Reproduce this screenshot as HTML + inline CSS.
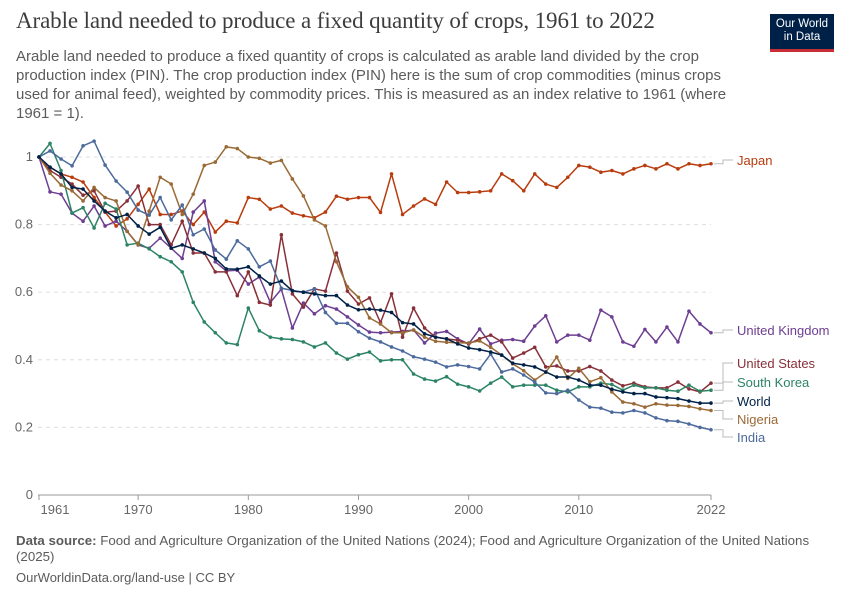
<!DOCTYPE html>
<html><head><meta charset="utf-8"><style>
body{margin:0;background:#fff;font-family:"Liberation Sans",sans-serif;}
#wrap{position:relative;width:850px;height:600px;overflow:hidden}
h1{position:absolute;left:16px;top:8px;margin:0;font-family:"Liberation Serif",serif;font-size:23px;font-weight:normal;color:#3d3d3d;letter-spacing:-0.1px}
#sub{position:absolute;left:16px;top:47px;width:715px;font-size:15px;line-height:19px;color:#5b5b5b}
#logo{position:absolute;left:770px;top:14px;width:64px;height:38px;background:#002147;color:#fff;font-size:11.5px;line-height:13px;text-align:center;padding-top:4px;box-sizing:border-box}
#logo:after{content:"";position:absolute;left:0;right:0;bottom:0;height:3px;background:#c82d36}
#foot{position:absolute;left:16px;top:533px;width:795px;font-size:13.3px;line-height:16px;color:#5b5b5b}
#foot2{position:absolute;left:16px;top:570px;font-size:13px;color:#5b5b5b}
</style></head><body><div id="wrap">
<h1>Arable land needed to produce a fixed quantity of crops, 1961 to 2022</h1>
<div id="sub">Arable land needed to produce a fixed quantity of crops is calculated as arable land divided by the crop production index (PIN). The crop production index (PIN) here is the sum of crop commodities (minus crops used for animal feed), weighted by commodity prices. This is measured as an index relative to 1961 (where 1961 = 1).</div>
<div id="logo">Our World<br>in Data</div>
<svg id="chart" width="850" height="600" style="position:absolute;left:0;top:0"></svg>
<div id="foot"><b>Data source:</b> Food and Agriculture Organization of the United Nations (2024); Food and Agriculture Organization of the United Nations (2025)</div>
<div id="foot2">OurWorldinData.org/land-use | CC BY</div>
</div>
<script>
const years=[];for(let y=1961;y<=2022;y++)years.push(y);
const yTicks=[0,0.2,0.4,0.6,0.8,1];
const yTickLabels=["0","0.2","0.4","0.6","0.8","1"];
const xTicks=[1961,1970,1980,1990,2000,2010,2022];
const japan=[1,0.97,0.95,0.94,0.926,0.88,0.837,0.796,0.817,0.86,0.905,0.83,0.83,0.84,0.8,0.837,0.778,0.81,0.805,0.88,0.875,0.846,0.855,0.834,0.826,0.82,0.837,0.884,0.875,0.88,0.88,0.836,0.95,0.83,0.855,0.876,0.86,0.926,0.895,0.895,0.897,0.9,0.95,0.93,0.9,0.95,0.92,0.91,0.94,0.975,0.97,0.955,0.96,0.95,0.965,0.975,0.965,0.98,0.965,0.98,0.975,0.98];
const uk=[1,0.897,0.89,0.834,0.81,0.855,0.796,0.81,0.78,0.74,0.73,0.76,0.73,0.7,0.837,0.87,0.69,0.663,0.665,0.624,0.645,0.57,0.609,0.494,0.568,0.536,0.56,0.55,0.527,0.503,0.482,0.48,0.482,0.484,0.488,0.45,0.479,0.484,0.462,0.447,0.491,0.447,0.458,0.46,0.455,0.5,0.53,0.453,0.473,0.473,0.458,0.547,0.527,0.453,0.44,0.49,0.453,0.497,0.453,0.544,0.506,0.48];
const us=[1,0.96,0.94,0.92,0.887,0.9,0.837,0.84,0.87,0.914,0.8,0.8,0.74,0.81,0.716,0.716,0.66,0.66,0.59,0.66,0.57,0.562,0.77,0.595,0.556,0.61,0.603,0.716,0.603,0.565,0.583,0.51,0.595,0.467,0.553,0.494,0.467,0.462,0.458,0.447,0.462,0.473,0.453,0.405,0.42,0.437,0.379,0.382,0.367,0.367,0.38,0.367,0.34,0.323,0.331,0.32,0.317,0.317,0.334,0.314,0.305,0.331];
const korea=[1,1.04,0.96,0.834,0.85,0.79,0.863,0.846,0.74,0.745,0.728,0.705,0.69,0.66,0.57,0.512,0.48,0.45,0.445,0.553,0.486,0.467,0.462,0.46,0.453,0.438,0.45,0.42,0.402,0.415,0.423,0.397,0.4,0.4,0.358,0.343,0.337,0.35,0.328,0.32,0.308,0.331,0.349,0.32,0.325,0.325,0.325,0.31,0.305,0.32,0.32,0.331,0.327,0.31,0.325,0.317,0.317,0.31,0.307,0.325,0.307,0.31];
const world=[1,0.97,0.95,0.91,0.905,0.87,0.84,0.82,0.83,0.796,0.772,0.792,0.73,0.74,0.728,0.716,0.7,0.669,0.668,0.675,0.648,0.624,0.633,0.604,0.6,0.595,0.59,0.59,0.562,0.548,0.55,0.547,0.54,0.51,0.506,0.477,0.467,0.462,0.447,0.435,0.43,0.423,0.414,0.39,0.385,0.379,0.364,0.349,0.349,0.34,0.325,0.325,0.313,0.305,0.3,0.3,0.29,0.288,0.285,0.278,0.272,0.272];
const nigeria=[1,0.952,0.917,0.9,0.87,0.91,0.88,0.87,0.78,0.74,0.84,0.94,0.92,0.83,0.89,0.975,0.985,1.03,1.025,1.0,0.996,0.982,0.99,0.935,0.885,0.814,0.796,0.69,0.616,0.585,0.524,0.506,0.48,0.48,0.488,0.467,0.455,0.452,0.45,0.45,0.456,0.437,0.414,0.388,0.368,0.34,0.363,0.408,0.345,0.375,0.335,0.347,0.305,0.275,0.27,0.26,0.27,0.266,0.265,0.262,0.255,0.25];
const india=[1,1.018,0.994,0.974,1.033,1.047,0.976,0.929,0.896,0.843,0.828,0.88,0.814,0.858,0.77,0.787,0.725,0.698,0.752,0.728,0.675,0.692,0.612,0.605,0.6,0.61,0.54,0.508,0.508,0.483,0.464,0.453,0.438,0.426,0.409,0.402,0.393,0.379,0.385,0.38,0.373,0.417,0.364,0.373,0.355,0.334,0.302,0.3,0.31,0.281,0.26,0.257,0.245,0.243,0.25,0.243,0.228,0.22,0.218,0.21,0.2,0.193];
const series=[
 {name:"Japan",data:japan,color:"#b83c0e",ly:164},
 {name:"United Kingdom",data:uk,color:"#6d3e91",ly:334},
 {name:"United States",data:us,color:"#883039",ly:367},
 {name:"South Korea",data:korea,color:"#2c8465",ly:386},
 {name:"Nigeria",data:nigeria,color:"#9a6a36",ly:423},
 {name:"India",data:india,color:"#4c6a9c",ly:441},
 {name:"World",data:world,color:"#002147",ly:405}
];
const svg=document.getElementById('chart');const NS="http://www.w3.org/2000/svg";
const X0=39,X1=711,Y0=495,Y1=157;
const xs=y=>X0+(y-1961)*(X1-X0)/(2022-1961);
const ys=v=>Y0-v*(Y0-Y1);
function mk(t,a,txt){const e=document.createElementNS(NS,t);for(const k in a)e.setAttribute(k,a[k]);if(txt!==undefined)e.textContent=txt;svg.appendChild(e);return e;}
yTicks.forEach((v,i)=>{
 const g=mk('line',{x1:38,x2:711,y1:ys(v),y2:ys(v),stroke:'#ddd','stroke-dasharray':v===0?'':'4,4'});
 
 
 const t=mk('text',{x:33,y:ys(v)+4,'text-anchor':'end','font-size':13,fill:'#666'},yTickLabels[i]);
 
 
});
const ax=mk('line',{x1:38,x2:711,y1:Y0,y2:Y0,stroke:'#999'});


xTicks.forEach(y=>{
 const l=mk('line',{x1:xs(y),x2:xs(y),y1:Y0,y2:Y0+5,stroke:'#999'});
 
 
 const t=mk('text',{x:xs(y)+(y===1961?16:0),y:Y0+19,'text-anchor':'middle','font-size':13,fill:'#666'},String(y));
 
 
});
series.forEach(s=>{
 const pts=s.data.map((v,i)=>xs(years[i])+','+ys(v)).join(' ');
 const p=mk('polyline',{points:pts,fill:'none',stroke:s.color,'stroke-width':1.5,'stroke-linejoin':'round'});
 
 
 s.data.forEach((v,i)=>{
  const c=mk('circle',{cx:xs(years[i]),cy:ys(v),r:1.8,fill:s.color});
  
  
 });
 const ey=ys(s.data[s.data.length-1]);
 const cl=mk('path',{d:`M${X1+3},${ey} H${X1+12} V${s.ly-4} H${X1+22}`,fill:'none',stroke:'#bbb','stroke-width':1});
 
 
 const t=mk('text',{x:737,y:s.ly+1,'font-size':13,fill:s.color},s.name);
 
 
});
</script></body></html>
